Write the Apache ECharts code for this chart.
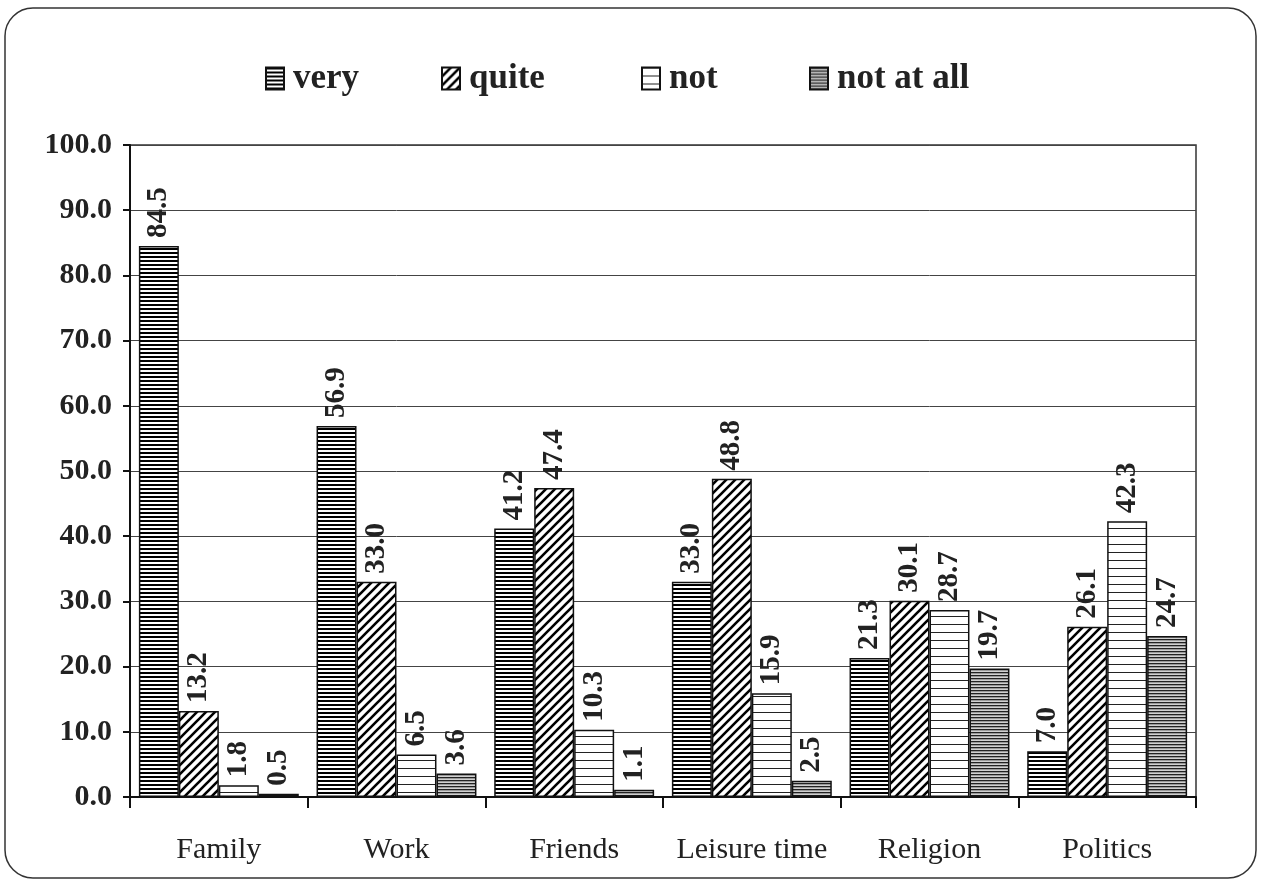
<!DOCTYPE html>
<html>
<head>
<meta charset="utf-8">
<script src="https://cdn.jsdelivr.net/npm/echarts@6/dist/echarts.min.js"></script>
<style>
  html, body { margin: 0; padding: 0; background: #fff; }
  #chart { width: 1262px; height: 881px; }
</style>
</head>
<body>
<div id="chart"></div>
<script>
var categories = ['Family', 'Work', 'Friends', 'Leisure time', 'Religion', 'Politics'];
var seriesNames = ['very', 'quite', 'not', 'not at all'];
var very = [84.5, 56.9, 41.2, 33.0, 21.3, 7.0];
var quite = [13.2, 33.0, 47.4, 48.8, 30.1, 26.1];
var notImp = [1.8, 6.5, 10.3, 15.9, 28.7, 42.3];
var notAtAll = [0.5, 3.6, 1.1, 2.5, 19.7, 24.7];
var yTicks = [0, 10, 20, 30, 40, 50, 60, 70, 80, 90, 100];

// hatch fills drawn on small canvases
function stripes(period, rows) {
  var c = document.createElement('canvas');
  c.width = 8; c.height = period;
  var ctx = c.getContext('2d');
  ctx.fillStyle = '#fff';
  ctx.fillRect(0, 0, 8, period);
  rows.forEach(function (r) {
    ctx.fillStyle = r[1];
    ctx.fillRect(0, r[0], 8, r[2] || 1);
  });
  return { image: c, repeat: 'repeat' };
}

function diagonal() {
  var s = 9;
  var c = document.createElement('canvas');
  c.width = s; c.height = s;
  var ctx = c.getContext('2d');
  ctx.fillStyle = '#fff';
  ctx.fillRect(0, 0, s, s);
  ctx.strokeStyle = '#000';
  ctx.lineWidth = 2.6;
  ctx.beginPath();
  ctx.moveTo(-s, 2 * s); ctx.lineTo(2 * s, -s);
  ctx.moveTo(-s, s); ctx.lineTo(s, -s);
  ctx.moveTo(0, 2 * s); ctx.lineTo(2 * s, 0);
  ctx.stroke();
  return { image: c, repeat: 'repeat' };
}

var fills = [
  stripes(4, [[0, '#000', 2]]),
  diagonal(),
  stripes(8, [[0, '#222', 1]]),
  stripes(3, [[0, '#222', 1], [1, '#999', 1], [2, '#d0d0d0', 1]])
];
var dataSets = [very, quite, notImp, notAtAll];

var serif = '"Liberation Serif", "DejaVu Serif", serif';

var chart = echarts.init(document.getElementById('chart'));

var series = seriesNames.map(function (name, i) {
  return {
    name: name,
    type: 'bar',
    barGap: '0%',
    barCategoryGap: '10%',
    data: dataSets[i],
    itemStyle: {
      color: fills[i],
      borderColor: '#111',
      borderWidth: 1.5
    },
    label: {
      show: true,
      position: 'top',
      rotate: 90,
      align: 'left',
      verticalAlign: 'middle',
      distance: 8,
      fontFamily: serif,
      fontWeight: 'bold',
      fontSize: 29,
      color: '#222',
      formatter: function (p) { return p.value.toFixed(1); }
    }
  };
});

// one legend per item so each sits where the reference puts it
var legendLeft = [260, 436, 636, 804];
var legends = seriesNames.map(function (name, i) {
  return {
    data: [name],
    left: legendLeft[i],
    top: 56,
    icon: 'rect',
    itemWidth: 18,
    itemHeight: 22,
    textStyle: {
      fontFamily: serif,
      fontWeight: 'bold',
      fontSize: 35,
      color: '#222',
      padding: [0, 0, 0, 4]
    }
  };
});

var option = {
  backgroundColor: '#fff',
  animation: false,
  graphic: [{
    type: 'rect',
    shape: { x: 5, y: 8, width: 1251, height: 870, r: 28 },
    style: { fill: 'none', stroke: '#333', lineWidth: 1.5 },
    silent: true
  }],
  legend: legends,
  grid: {
    left: 130,
    right: 66,
    top: 145,
    bottom: 84,
    show: true,
    borderColor: '#333',
    borderWidth: 1.5
  },
  xAxis: {
    type: 'category',
    data: categories,
    axisLine: { lineStyle: { color: '#111', width: 2 } },
    axisTick: { show: true, interval: 0, length: 11, lineStyle: { color: '#111', width: 2 } },
    axisLabel: {
      interval: 0,
      margin: 38,
      fontFamily: serif,
      fontSize: 30,
      color: '#222'
    }
  },
  yAxis: {
    type: 'value',
    min: yTicks[0],
    max: yTicks[yTicks.length - 1],
    interval: 10,
    axisLine: { show: true, lineStyle: { color: '#111', width: 2 } },
    axisTick: { show: true, length: 7, lineStyle: { color: '#111', width: 2 } },
    splitLine: { lineStyle: { color: '#444', width: 1 } },
    axisLabel: {
      margin: 18,
      fontFamily: serif,
      fontWeight: 'bold',
      fontSize: 30,
      color: '#222',
      formatter: function (v) { return v.toFixed(1); }
    }
  },
  series: series
};

chart.setOption(option);
</script>
</body>
</html>
